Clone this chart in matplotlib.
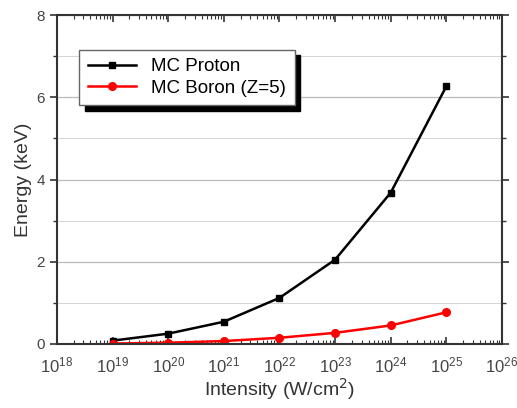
import matplotlib.pyplot as plt
import matplotlib.ticker as ticker

plt.rcParams['font.family'] = ['Liberation Sans', 'DejaVu Sans']

intensity = [1e19, 1e20, 1e21, 1e22, 1e23, 1e24, 1e25]
proton = [0.08, 0.25, 0.54, 1.12, 2.05, 3.68, 6.27]
boron = [0.01, 0.03, 0.07, 0.15, 0.27, 0.45, 0.77]

fig = plt.figure(figsize=(5.17, 4.08), dpi=100)
ax = fig.add_axes([0.110, 0.157, 0.861, 0.806])

ax.plot(intensity, proton, color='black', marker='s', markersize=5, lw=1.8, label='MC Proton')
ax.plot(intensity, boron, color='red', marker='o', markersize=5.5, lw=1.8, label='MC Boron (Z=5)')

ax.set_xscale('log')
ax.set_xlim(1e18, 1e26)
ax.set_ylim(0, 8)
ax.xaxis.set_major_locator(ticker.LogLocator(base=10, numticks=20))
ax.xaxis.set_minor_locator(ticker.LogLocator(base=10, subs=range(2, 10), numticks=20))
ax.yaxis.set_major_locator(ticker.MultipleLocator(2))
ax.yaxis.set_minor_locator(ticker.MultipleLocator(1))

ax.grid(True, which='major', axis='y', color='#bbbbbb', lw=0.9)
ax.grid(True, which='minor', axis='y', color='#d5d5d5', lw=0.7)
ax.set_axisbelow(True)

for s in ax.spines.values():
    s.set_linewidth(1.5)
    s.set_color('#333333')

ax.tick_params(axis='both', which='both', labelcolor='#444444', color='#333333',
               top=True, right=True)
ax.tick_params(axis='y', which='major', direction='out', length=5, width=1.2, labelsize=11)
ax.tick_params(axis='y', which='minor', direction='out', length=3, width=1)
ax.tick_params(axis='x', which='major', direction='in', length=5, width=1.2, labelsize=12, pad=8)
ax.tick_params(axis='x', which='minor', direction='in', length=3, width=0.8)
ax.tick_params(axis='y', which='both', right=True, labelright=False)

ax.set_xlabel('Intensity (W/cm$^2$)', fontsize=14, color='#333333', labelpad=1)
ax.set_ylabel('Energy (keV)', fontsize=14, color='#333333', labelpad=3)

leg = ax.legend(loc='upper left', bbox_to_anchor=(0.05, 0.895), fontsize=13.5, frameon=True,
                fancybox=False, shadow={'color': 'black', 'alpha': 1, 'ox': 4, 'oy': -4},
                handlelength=2.6, borderpad=0.45, labelspacing=0.25, borderaxespad=0)
leg.get_frame().set_edgecolor('#666666')
leg.get_frame().set_linewidth(1.0)

fig.savefig('out.png', dpi=100)
